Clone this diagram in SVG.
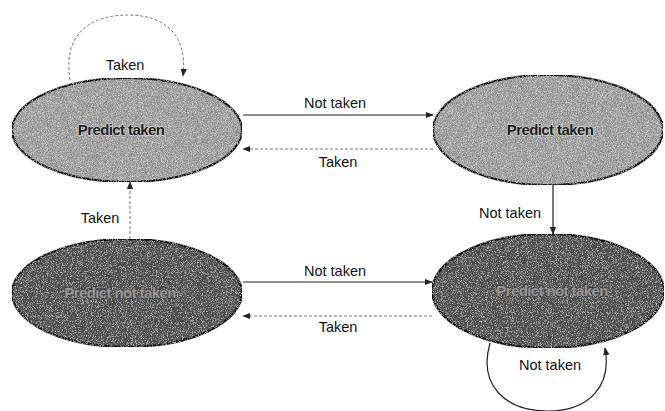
<svg xmlns="http://www.w3.org/2000/svg" width="665" height="411" viewBox="0 0 665 411">
<style>
.lbl{font-family:"Liberation Sans",Arial,sans-serif;font-size:14.5px;fill:#111;text-anchor:middle}
.st{font-family:"Liberation Sans",Arial,sans-serif;font-size:15px;font-weight:bold;text-anchor:middle;letter-spacing:-0.6px}
.light{fill:#a2a2a2;stroke:#111;stroke-width:2.2}
.dark{fill:#525252;stroke:#111;stroke-width:2.2}
.solid{fill:none;stroke:#222;stroke-width:1.2}
.dash{fill:none;stroke:#777;stroke-width:1;stroke-dasharray:3 2}
</style>
<defs>
<marker id="ah" viewBox="0 0 10 10" refX="9" refY="5" markerWidth="8" markerHeight="8" orient="auto" markerUnits="userSpaceOnUse">
<path d="M0,1 L10,5 L0,9 z" fill="#222"/>
</marker>
<filter id="grain" x="0" y="0" width="100%" height="100%">
<feTurbulence type="fractalNoise" baseFrequency="1.2" numOctaves="2" seed="3" result="n"/>
<feColorMatrix in="n" type="matrix" values="0.8 0 0 0 0.1  0.8 0 0 0 0.1  0.8 0 0 0 0.1  0 0 0 0 1" result="g"/>
<feComposite in="g" in2="SourceGraphic" operator="in" result="gg"/>
<feBlend in="SourceGraphic" in2="gg" mode="overlay"/>
</filter>
</defs>
<rect width="665" height="411" fill="#fff"/>
<g id="connectors">
<path class="dash" d="M70,80 C62,30 95,15 128,15 C162,15 188,32 183,76" marker-end="url(#ah)"/>
<line class="solid" x1="243" y1="115" x2="433" y2="115" marker-end="url(#ah)"/>
<line class="dash" x1="433" y1="149" x2="243" y2="149" marker-end="url(#ah)"/>
<line class="solid" x1="553" y1="185" x2="553" y2="234" marker-end="url(#ah)"/>
<line class="dash" x1="130" y1="239" x2="130" y2="182" marker-end="url(#ah)"/>
<line class="solid" x1="243" y1="282" x2="432" y2="282" marker-end="url(#ah)"/>
<line class="dash" x1="432" y1="316" x2="243" y2="316" marker-end="url(#ah)"/>
<path class="solid" d="M490,343 C478,385 505,411 548,411 C590,411 612,385 605,348" marker-end="url(#ah)"/>
</g>
<g id="labels">
<text class="lbl" x="125" y="70">Taken</text>
<text class="lbl" x="335" y="108">Not taken</text>
<text class="lbl" x="338" y="167">Taken</text>
<text class="lbl" x="510" y="218">Not taken</text>
<text class="lbl" x="100" y="223">Taken</text>
<text class="lbl" x="335" y="276">Not taken</text>
<text class="lbl" x="338" y="332">Taken</text>
<text class="lbl" x="550" y="370">Not taken</text>
</g>
<g id="state-tl">
<ellipse class="light" cx="127" cy="130" rx="115" ry="52" filter="url(#grain)"/>
<text class="st" x="121" y="135" fill="#1a1a1a" stroke="#e0e0e0" stroke-width="1.2" paint-order="stroke">Predict taken</text>
</g>
<g id="state-tr">
<ellipse class="light" cx="548" cy="130" rx="115" ry="55" filter="url(#grain)"/>
<text class="st" x="550" y="135" fill="#1a1a1a" stroke="#e0e0e0" stroke-width="1.2" paint-order="stroke">Predict taken</text>
</g>
<g id="state-bl">
<ellipse class="dark" cx="127" cy="293" rx="115" ry="54" filter="url(#grain)"/>
<text class="st" x="120" y="298" fill="#9a9a9a" stroke="#2a2a2a" stroke-width="0.8" paint-order="stroke">Predict not taken</text>
</g>
<g id="state-br">
<ellipse class="dark" cx="548" cy="291" rx="116" ry="57" filter="url(#grain)"/>
<text class="st" x="552" y="296" fill="#9a9a9a" stroke="#2a2a2a" stroke-width="0.8" paint-order="stroke">Predict not taken</text>
</g>
</svg>
